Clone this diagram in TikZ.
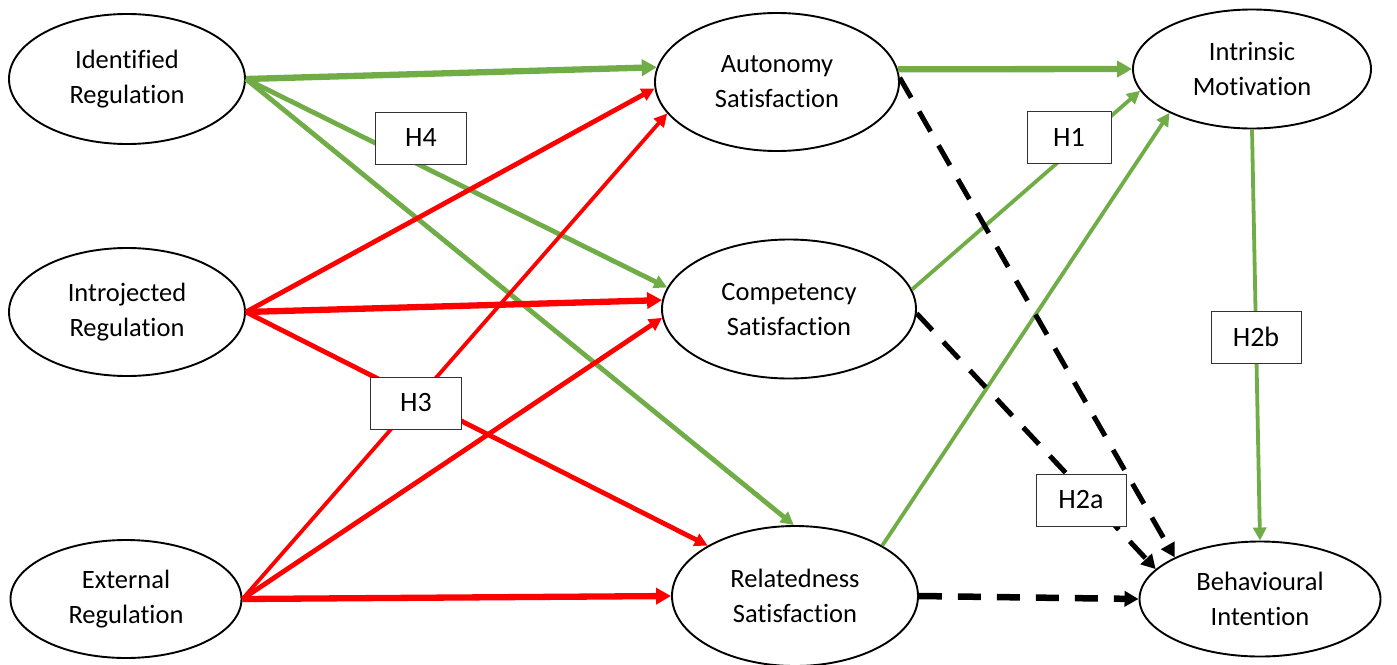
\documentclass[tikz,border=0pt]{standalone}
\usepackage{fontspec}
\setmainfont[Ligatures=NoCommon]{Carlito}
\usetikzlibrary{arrows.meta,shapes.geometric}
\definecolor{ggreen}{HTML}{70AD47}
\definecolor{rred}{HTML}{FF0000}
\begin{document}
\begin{tikzpicture}[x=1pt,y=-1pt,
  ell/.style={ellipse,draw=black,line width=1.9pt,fill=white,inner sep=0pt,align=center,
    font=\fontsize{26.5}{35}\selectfont},
  hbox/.style={rectangle,draw=black!80,line width=1pt,fill=white,minimum height=52pt,
    inner sep=0pt,font=\fontsize{28}{30}\selectfont},
  gline/.style={draw=ggreen,-{Triangle[length=13pt,width=13pt]}},
  rline/.style={draw=rred,-{Triangle[length=13pt,width=13pt]}},
  kline/.style={draw=black,dash pattern=on 23pt off 16pt,-{Triangle[length=14pt,width=15pt]}},
  heavy/.style={line width=6.3pt,-{Triangle[length=15pt,width=16pt]}},
  medium/.style={line width=4.8pt},
  light/.style={line width=3.8pt}]
\useasboundingbox (0,0) rectangle (1397,664);
\fill[white] (0,0) rectangle (1397,664);

% ellipses
\node[ell,minimum width=236pt,minimum height=130pt] (idr) at (127,79) {Identified\\Regulation};
\node[ell,minimum width=236pt,minimum height=128pt] (inr) at (127,312) {Introjected\\Regulation};
\node[ell,minimum width=231pt,minimum height=118pt] (exr) at (126,599) {External\\Regulation};
\node[ell,minimum width=244pt,minimum height=138pt] (aut) at (777,82) {Autonomy\\Satisfaction};
\node[ell,minimum width=254pt,minimum height=139pt] (com) at (789,309) {Competency\\Satisfaction};
\node[ell,minimum width=246pt,minimum height=140pt] (rel) at (795,596) {Relatedness\\Satisfaction};
\node[ell,minimum width=238pt,minimum height=119pt] (intr) at (1252,69) {Intrinsic\\Motivation};
\node[ell,minimum width=241pt,minimum height=115pt] (beh) at (1260,599) {Behavioural\\Intention};

% green connectors
\draw[gline,heavy] (idr.east) -- (aut.173);
\draw[gline,medium] (idr.east) -- (com.170);
\draw[gline,medium] (idr.east) -- (rel.91);
\draw[gline,heavy] (aut.6) -- (intr.west);
\draw[gline,light] (com.9) -- (intr.191);
\draw[gline,light] (rel.30) -- (intr.208);
\draw[gline,light] (intr.south) -- (beh.north);

% red connectors
\draw[rline,medium] (inr.east) -- (aut.183);
\draw[rline,heavy] (inr.east) -- (com.176);
\draw[rline,medium] (inr.east) -- (rel.150);
\draw[rline,light] (exr.east) -- (aut.196);
\draw[rline,medium] (exr.east) -- (com.184);
\draw[rline,heavy] (exr.east) -- (rel.west);

% dashed connectors
\draw[kline,line width=5pt] (aut.2) -- (beh.154);
\draw[kline,line width=5pt] (com.358) -- (beh.164);
\draw[kline,line width=6.5pt] (rel.east) -- (beh.west);

% hypothesis labels
\node[hbox,minimum width=91pt] (h4) at (421,138) {H4};
\node[hbox,minimum width=84pt] (h1) at (1069,137) {H1};
\node[hbox,minimum width=91pt] (h3) at (416,403) {H3};
\node[hbox,minimum width=90pt] (h2b) at (1256,337) {H2b};
\node[hbox,minimum width=90pt] (h2a) at (1081,500) {H2a};
\end{tikzpicture}
\end{document}
